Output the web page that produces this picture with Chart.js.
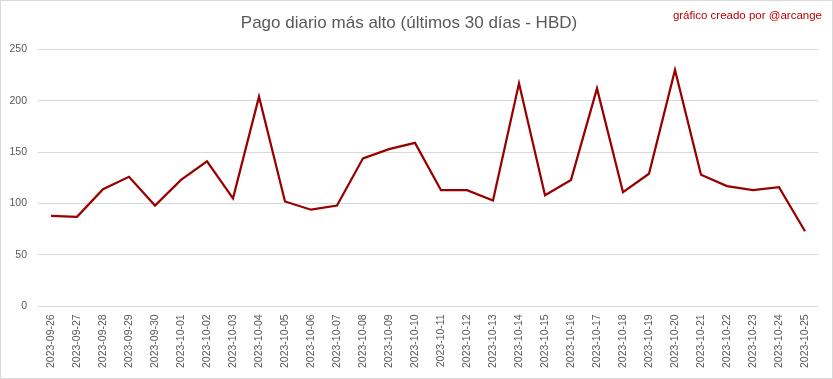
<!DOCTYPE html>
<html>
<head>
<meta charset="utf-8">
<script src="https://cdn.jsdelivr.net/npm/chart.js@4.4.0/dist/chart.umd.min.js"></script>
<style>
html,body{margin:0;padding:0;background:#fff;}
#wrap{width:833px;height:379px;position:relative;}
</style>
</head>
<body>
<div id="wrap"><canvas id="c" width="833" height="379"></canvas></div>
<script>
const categories = ["2023-09-26","2023-09-27","2023-09-28","2023-09-29","2023-09-30","2023-10-01","2023-10-02","2023-10-03","2023-10-04","2023-10-05","2023-10-06","2023-10-07","2023-10-08","2023-10-09","2023-10-10","2023-10-11","2023-10-12","2023-10-13","2023-10-14","2023-10-15","2023-10-16","2023-10-17","2023-10-18","2023-10-19","2023-10-20","2023-10-21","2023-10-22","2023-10-23","2023-10-24","2023-10-25"];
const values = [88,87,114,126,98,123,141,105,204,102,94,98,144,153,159,113,113,103,217,108,123,212,111,129,230,128,117,113,116,73];
const yTicks = [0,50,100,150,200,250];
const titleText = "Pago diario más alto (últimos 30 días - HBD)";
const creditText = "gráfico creado por @arcange";

const decor = {
  id: 'decor',
  afterDraw(chart) {
    const ctx = chart.ctx;
    ctx.save();
    ctx.strokeStyle = '#d9d9d9';
    ctx.lineWidth = 1;
    ctx.strokeRect(0.5, 0.5, chart.width - 1, chart.height - 1);
    ctx.fillStyle = '#c00000';
    ctx.font = '11.5px "Liberation Sans", Arial, sans-serif';
    ctx.textAlign = 'right';
    ctx.textBaseline = 'middle';
    ctx.fillText(creditText, 822, 16);
    ctx.restore();
  }
};

new Chart(document.getElementById('c'), {
  type: 'line',
  data: {
    labels: categories,
    datasets: [{
      data: values,
      borderColor: '#990000',
      borderWidth: 2.25,
      pointRadius: 0,
      tension: 0,
      fill: false
    }]
  },
  options: {
    responsive: false,
    animation: false,
    layout: { padding: { top: 0, right: 15, bottom: 3, left: 0 } },
    plugins: {
      legend: { display: false },
      tooltip: { enabled: false },
      title: {
        display: true,
        text: titleText,
        color: '#595959',
        font: { family: '"Liberation Sans", Arial, sans-serif', size: 17, weight: 'normal' },
        padding: { top: 13, bottom: 16 }
      }
    },
    scales: {
      x: {
        offset: true,
        grid: { display: false, drawTicks: false },
        border: { display: false },
        ticks: {
          color: '#595959',
          font: { family: '"Liberation Sans", Arial, sans-serif', size: 10.5 },
          minRotation: 90, maxRotation: 90,
          autoSkip: false,
          padding: 8
        }
      },
      y: {
        min: 0, max: 250,
        afterBuildTicks(scale) { scale.ticks = yTicks.map(v => ({ value: v })); },
        afterFit(scale) { scale.width = 38; },
        grid: { color: '#d9d9d9', drawTicks: false, lineWidth: 1 },
        border: { display: false },
        ticks: {
          color: '#595959',
          font: { family: '"Liberation Sans", Arial, sans-serif', size: 10.5 },
          padding: 11
        }
      }
    }
  },
  plugins: [decor]
});
</script>
</body>
</html>
